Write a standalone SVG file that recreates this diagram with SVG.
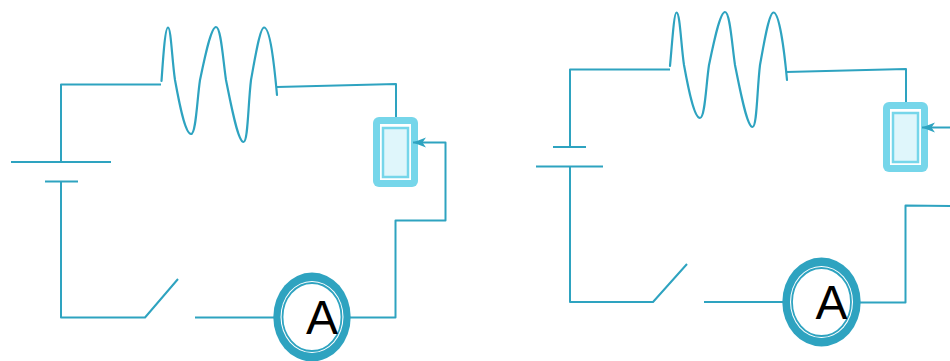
<svg xmlns="http://www.w3.org/2000/svg" width="950" height="361" viewBox="0 0 950 361">
<style>
.w{fill:none;stroke:#2ea3c0;stroke-width:2;stroke-linejoin:round}
.c{fill:none;stroke:#2ea3c0;stroke-width:2.200;stroke-linecap:round}
.o{fill:#76d6ea}
.m{fill:#fff}
.i{fill:#dff6fb;stroke:#76d6ea;stroke-width:2.500}
.r{fill:#2ea3c0}
.g{fill:#fff}
.t{fill:#fff;stroke:#2ea3c0;stroke-width:1.800}
.l{font-family:"Liberation Sans",Arial,sans-serif;font-size:48px;fill:#000;text-anchor:middle}
</style>
<defs>
<marker id="ah" markerWidth="16" markerHeight="12" refX="14" refY="6" orient="auto" markerUnits="userSpaceOnUse">
<path d="M14 6L1 1L4.500 6L1 11Z" fill="#2ea3c0"/>
</marker>
</defs>
<g id="resistor-1"><path class="c" d="M161.500 81C163 60 165 27.500 168 27.500C171 27.500 172 60 175 80C179 102 185 134 191 134C196 134 197 100 200 80C205 56 211 27 216 27C221 27 223 60 226 80C231 105 238 142 243.500 142C248 142 248 105 251 80C255 58 260 27.500 264 27.500C270 27.500 274 62 277 95"/></g>
<g id="resistor-2"><path class="c" d="M670 66C672 45 674 12.500 676.500 12.500C680 12.500 681 45 684 65C688 87 694 118 700 118C705 118 706 85 709 65C714 41 720 12 725 12C730 12 732 45 735 65C740 90 747 127 752.500 127C757 127 757 90 760 65C764 43 769 12.500 773.500 12.500C779 12.500 784 47 787 80"/></g>
<g id="rheostat-1">
<rect class="o" x="373" y="117" width="45" height="70" rx="6"/>
<rect class="m" x="380" y="124" width="31" height="56"/>
<rect class="i" x="383" y="128" width="25" height="49"/>
</g>
<g id="rheostat-2">
<rect class="o" x="883" y="102" width="45" height="70" rx="6"/>
<rect class="m" x="890" y="109" width="31" height="56"/>
<rect class="i" x="893" y="113" width="25" height="49"/>
</g>
<g id="ammeter-1">
<ellipse class="r" cx="312" cy="317" rx="38.700" ry="44.500"/>
<ellipse class="g" cx="312" cy="317" rx="31.500" ry="36"/>
<ellipse class="t" cx="312" cy="317" rx="29.500" ry="34"/>
<text class="l" x="322" y="334">A</text>
</g>
<g id="ammeter-2">
<ellipse class="r" cx="821.500" cy="302" rx="39.200" ry="44.500"/>
<ellipse class="g" cx="821.500" cy="302" rx="31.500" ry="36"/>
<ellipse class="t" cx="821.500" cy="302" rx="29.500" ry="34"/>
<text class="l" x="831.500" y="319">A</text>
</g>
<g id="connectors">
<path class="w" d="M161 84.500H61V162"/>
<path class="w" d="M11 162H111"/>
<path class="w" d="M45 181.500H78"/>
<path class="w" d="M61 181.500V317.500H145L178 279"/>
<path class="w" d="M195 317.500H274"/>
<path class="w" d="M277 87L396 84V117"/>
<path class="w" d="M350 317.500H395.500V220.500H445.500V142.500H413" marker-end="url(#ah)"/>
<path class="w" d="M670 69.500H570V147"/>
<path class="w" d="M553 147H586"/>
<path class="w" d="M536 166.500H603"/>
<path class="w" d="M570 166V302H653L687 264"/>
<path class="w" d="M704 302H783"/>
<path class="w" d="M786 72L906 69V102"/>
<path class="w" d="M860 302.500H905.500V205.500L950 206"/>
<path class="w" d="M950 127.500H922" marker-end="url(#ah)"/>
</g>
</svg>
